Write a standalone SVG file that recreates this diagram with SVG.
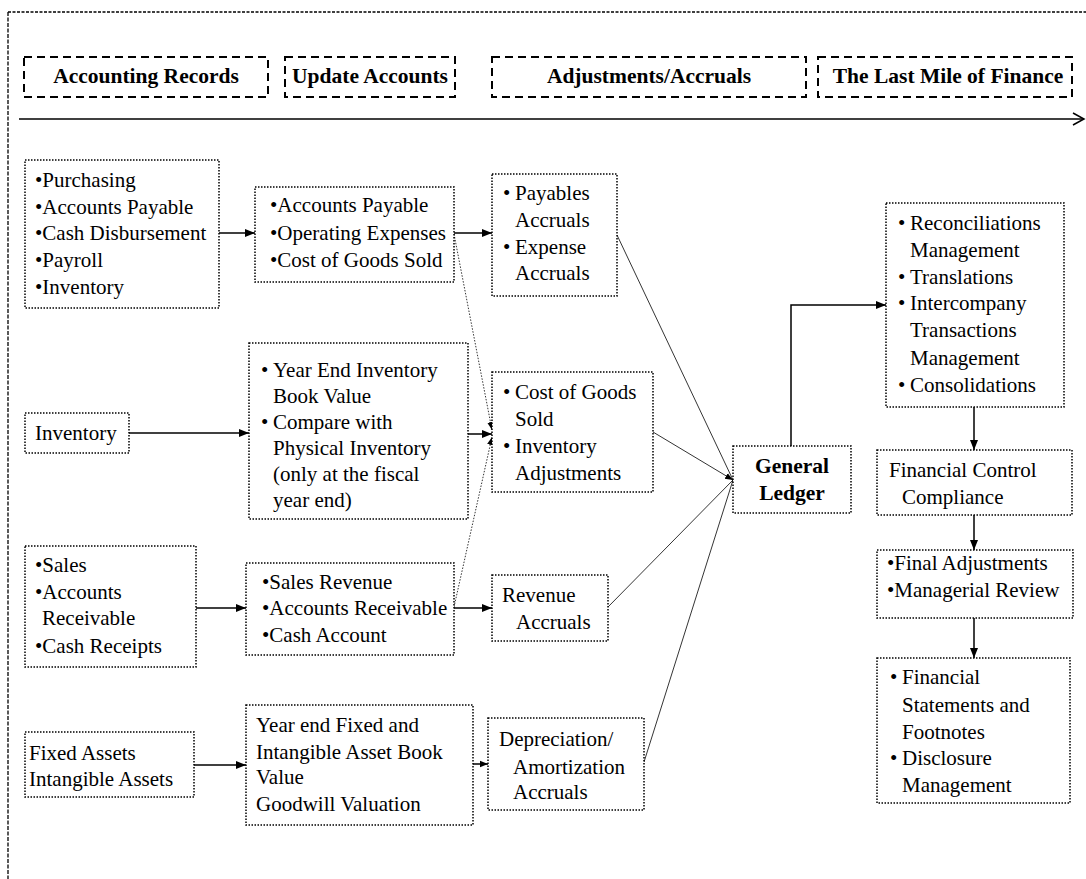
<svg xmlns="http://www.w3.org/2000/svg" width="1086" height="879" viewBox="0 0 1086 879">
<style>
  .t { font-family: "Liberation Serif", "Times New Roman", serif; font-size: 21px; fill: #000; }
  .b { font-family: "Liberation Serif", "Times New Roman", serif; font-size: 21.5px; font-weight: bold; fill: #000; }
  .box { fill: #fff; stroke: #000; stroke-width: 1.5; stroke-dasharray: 1.5 1.5; }
  .hdr { fill: none; stroke: #000; stroke-width: 2; stroke-dasharray: 8 5; }
  .c { fill: none; stroke: #000; stroke-width: 1.5; }
  .thin { fill: none; stroke: #000; stroke-width: 0.8; }
  .dot { fill: none; stroke: #000; stroke-width: 0.8; stroke-dasharray: 1.5 1.5; }
</style>
<defs>
  <marker id="ah" markerUnits="userSpaceOnUse" markerWidth="10" markerHeight="10" viewBox="0 0 10 10" refX="10" refY="5" orient="auto">
    <path d="M0,1 L10,5 L0,9 Z" fill="#000"/>
  </marker>
  <marker id="ahs" markerUnits="userSpaceOnUse" markerWidth="8" markerHeight="8" viewBox="0 0 10 10" refX="10" refY="5" orient="auto">
    <path d="M0,1 L10,5 L0,9 Z" fill="#000"/>
  </marker>
</defs>
<rect width="1086" height="879" fill="#fff"/>

<!-- outer frame (top and left) -->
<g id="frame">
  <line x1="8" y1="12" x2="1086" y2="12" stroke="#000" stroke-width="1.3" stroke-dasharray="3 1.5"/>
  <line x1="8" y1="12" x2="8" y2="879" stroke="#000" stroke-width="1.3" stroke-dasharray="4 1.5"/>
</g>

<!-- header phases -->
<g id="phase-records">
  <rect class="hdr" x="24" y="57" width="244" height="40"/>
  <text class="b" x="146" y="83" text-anchor="middle">Accounting Records</text>
</g>
<g id="phase-update">
  <rect class="hdr" x="285" y="57" width="170" height="40"/>
  <text class="b" x="370" y="83" text-anchor="middle">Update Accounts</text>
</g>
<g id="phase-adjust">
  <rect class="hdr" x="492" y="57" width="314" height="40"/>
  <text class="b" x="649" y="83" text-anchor="middle">Adjustments/Accruals</text>
</g>
<g id="phase-lastmile">
  <rect class="hdr" x="818" y="57" width="254" height="40"/>
  <text class="b" x="948" y="83" text-anchor="middle">The Last Mile of Finance</text>
</g>
<g id="timeline">
  <line x1="19" y1="119" x2="1083" y2="119" stroke="#000" stroke-width="1.5"/>
  <polyline points="1073,113 1084,119 1073,125" fill="none" stroke="#000" stroke-width="1.5"/>
</g>

<!-- connectors -->
<g id="connectors">
  <line class="c" x1="219" y1="233" x2="255" y2="233" marker-end="url(#ah)"/>
  <line class="c" x1="454" y1="233" x2="492" y2="233" marker-end="url(#ah)"/>
  <line class="c" x1="129" y1="433" x2="249" y2="433" marker-end="url(#ah)"/>
  <line class="c" x1="468" y1="434" x2="492" y2="434" marker-end="url(#ah)"/>
  <line class="c" x1="196" y1="608" x2="246" y2="608" marker-end="url(#ah)"/>
  <line class="c" x1="454" y1="608" x2="492" y2="608" marker-end="url(#ah)"/>
  <line class="c" x1="194" y1="765" x2="246" y2="765" marker-end="url(#ah)"/>
  <line class="c" x1="473" y1="764" x2="488" y2="764" marker-end="url(#ahs)"/>
  <line class="dot" x1="454" y1="234" x2="492" y2="430" marker-end="url(#ahs)"/>
  <line class="dot" x1="454" y1="607" x2="492" y2="437" marker-end="url(#ahs)"/>
  <line class="thin" x1="617" y1="235" x2="733" y2="480"/>
  <line class="thin" x1="653" y1="432" x2="733" y2="480" marker-end="url(#ahs)"/>
  <line class="thin" x1="608" y1="607" x2="733" y2="480"/>
  <line class="thin" x1="644" y1="762" x2="733" y2="480"/>
  <polyline class="c" points="791,446 791,305 886,305" stroke-width="2" marker-end="url(#ah)"/>
  <line class="c" x1="974" y1="407" x2="974" y2="450" marker-end="url(#ah)"/>
  <line class="c" x1="974" y1="515" x2="974" y2="550" marker-end="url(#ah)"/>
  <line class="c" x1="974" y1="618" x2="974" y2="658" marker-end="url(#ah)"/>
</g>

<!-- row 1 -->
<g id="records-purchasing">
  <rect class="box" x="25" y="160" width="194" height="148"/>
  <text class="t" x="35" y="187">•Purchasing</text>
  <text class="t" x="35" y="214">•Accounts Payable</text>
  <text class="t" x="35" y="240">•Cash Disbursement</text>
  <text class="t" x="35" y="267">•Payroll</text>
  <text class="t" x="35" y="294">•Inventory</text>
</g>
<g id="update-payables">
  <rect class="box" x="255" y="187" width="199" height="95"/>
  <text class="t" x="270" y="212">•Accounts Payable</text>
  <text class="t" x="270" y="240">•Operating Expenses</text>
  <text class="t" x="270" y="267">•Cost of Goods Sold</text>
</g>
<g id="payables-accruals">
  <rect class="box" x="492" y="174" width="125" height="122"/>
  <text class="t" x="503" y="200">•</text><text class="t" x="515" y="200">Payables</text>
  <text class="t" x="515" y="227">Accruals</text>
  <text class="t" x="503" y="254">•</text><text class="t" x="515" y="254">Expense</text>
  <text class="t" x="515" y="280">Accruals</text>
</g>

<!-- row 2 -->
<g id="records-inventory">
  <rect class="box" x="25" y="413" width="104" height="40"/>
  <text class="t" x="35" y="440">Inventory</text>
</g>
<g id="update-inventory">
  <rect class="box" x="249" y="343" width="219" height="176"/>
  <text class="t" x="261" y="377">•</text><text class="t" x="273" y="377">Year End Inventory</text>
  <text class="t" x="273" y="403">Book Value</text>
  <text class="t" x="261" y="429">•</text><text class="t" x="273" y="429">Compare with</text>
  <text class="t" x="273" y="455">Physical Inventory</text>
  <text class="t" x="273" y="481">(only at the fiscal</text>
  <text class="t" x="273" y="507">year end)</text>
</g>
<g id="cogs-adjustments">
  <rect class="box" x="492" y="372" width="161" height="120"/>
  <text class="t" x="503" y="399">•</text><text class="t" x="515" y="399">Cost of Goods</text>
  <text class="t" x="515" y="426">Sold</text>
  <text class="t" x="503" y="453">•</text><text class="t" x="515" y="453">Inventory</text>
  <text class="t" x="515" y="480">Adjustments</text>
</g>

<!-- row 3 -->
<g id="records-sales">
  <rect class="box" x="25" y="546" width="171" height="121"/>
  <text class="t" x="35" y="572">•Sales</text>
  <text class="t" x="35" y="599">•Accounts</text>
  <text class="t" x="42" y="625">Receivable</text>
  <text class="t" x="35" y="653">•Cash Receipts</text>
</g>
<g id="update-sales">
  <rect class="box" x="246" y="563" width="208" height="92"/>
  <text class="t" x="262" y="589">•Sales Revenue</text>
  <text class="t" x="262" y="615">•Accounts Receivable</text>
  <text class="t" x="262" y="642">•Cash Account</text>
</g>
<g id="revenue-accruals">
  <rect class="box" x="492" y="575" width="116" height="66"/>
  <text class="t" x="502" y="602">Revenue</text>
  <text class="t" x="516" y="629">Accruals</text>
</g>

<!-- row 4 -->
<g id="records-assets">
  <rect class="box" x="25" y="732" width="169" height="65"/>
  <text class="t" x="29" y="760">Fixed Assets</text>
  <text class="t" x="29" y="786">Intangible Assets</text>
</g>
<g id="update-assets">
  <rect class="box" x="246" y="705" width="227" height="120"/>
  <text class="t" x="256" y="732">Year end Fixed and</text>
  <text class="t" x="256" y="759">Intangible Asset Book</text>
  <text class="t" x="256" y="784">Value</text>
  <text class="t" x="256" y="811">Goodwill Valuation</text>
</g>
<g id="depreciation-accruals">
  <rect class="box" x="488" y="718" width="156" height="92"/>
  <text class="t" x="499" y="746">Depreciation/</text>
  <text class="t" x="513" y="774">Amortization</text>
  <text class="t" x="513" y="799">Accruals</text>
</g>

<!-- general ledger -->
<g id="general-ledger">
  <rect class="box" x="733" y="446" width="118" height="67"/>
  <text class="b" x="792" y="473" text-anchor="middle">General</text>
  <text class="b" x="792" y="500" text-anchor="middle">Ledger</text>
</g>

<!-- last mile column -->
<g id="reconciliations">
  <rect class="box" x="886" y="203" width="178" height="204"/>
  <text class="t" x="898" y="230">•</text><text class="t" x="910" y="230">Reconciliations</text>
  <text class="t" x="910" y="257">Management</text>
  <text class="t" x="898" y="284">•</text><text class="t" x="910" y="284">Translations</text>
  <text class="t" x="898" y="310">•</text><text class="t" x="910" y="310">Intercompany</text>
  <text class="t" x="910" y="337">Transactions</text>
  <text class="t" x="910" y="365">Management</text>
  <text class="t" x="898" y="392">•</text><text class="t" x="910" y="392">Consolidations</text>
</g>
<g id="financial-control">
  <rect class="box" x="877" y="450" width="195" height="65"/>
  <text class="t" x="889" y="477">Financial Control</text>
  <text class="t" x="902" y="504">Compliance</text>
</g>
<g id="final-adjustments">
  <rect class="box" x="877" y="550" width="196" height="68"/>
  <text class="t" x="887" y="570">•Final Adjustments</text>
  <text class="t" x="887" y="597">•Managerial Review</text>
</g>
<g id="financial-statements">
  <rect class="box" x="877" y="658" width="193" height="145"/>
  <text class="t" x="890" y="684">•</text><text class="t" x="902" y="684">Financial</text>
  <text class="t" x="902" y="712">Statements and</text>
  <text class="t" x="902" y="739">Footnotes</text>
  <text class="t" x="890" y="765">•</text><text class="t" x="902" y="765">Disclosure</text>
  <text class="t" x="902" y="792">Management</text>
</g>
</svg>
